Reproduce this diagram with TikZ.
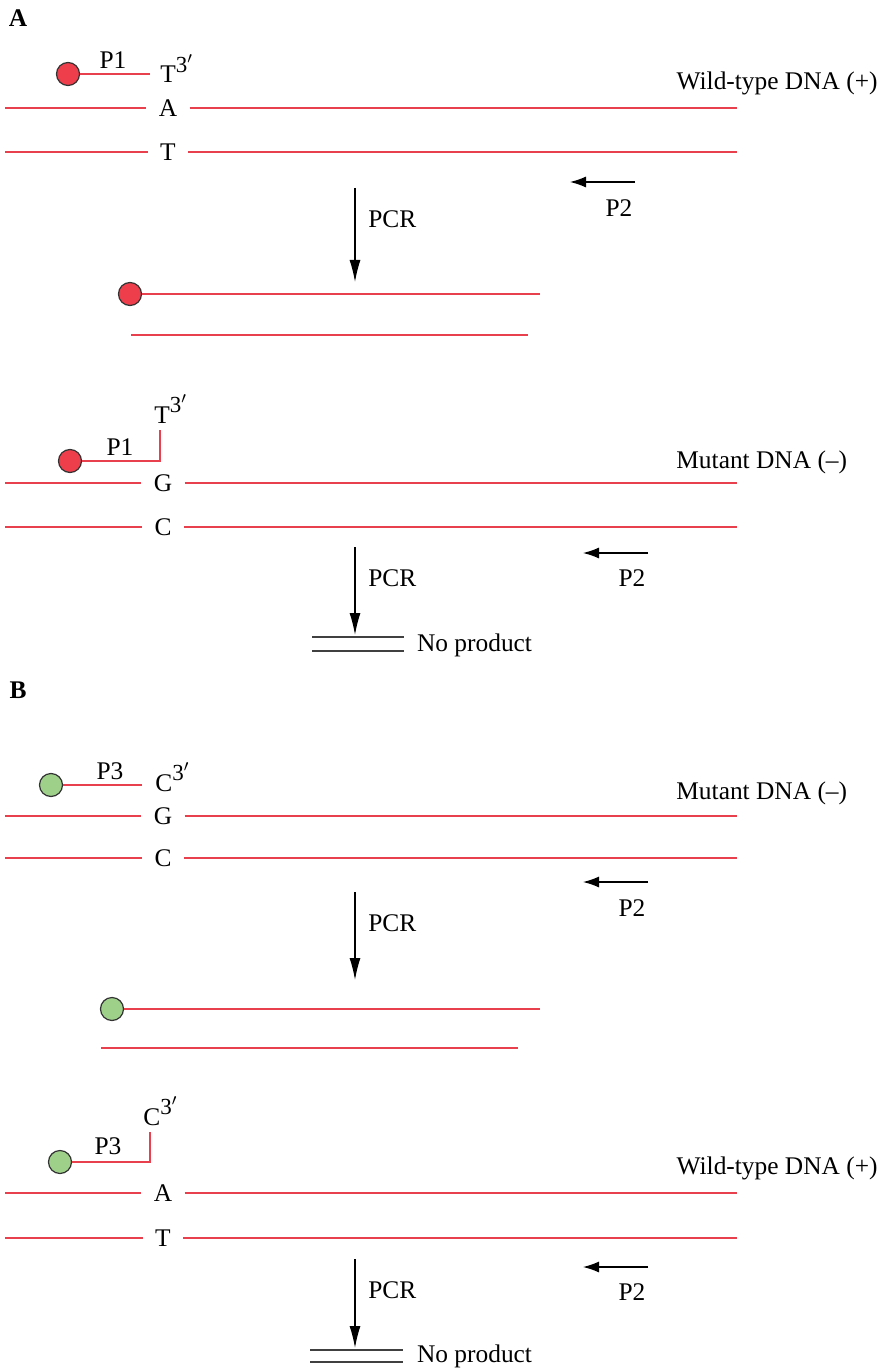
\documentclass[tikz,border=0pt]{standalone}
\usepackage{fontspec}
\setmainfont{Liberation Serif}
\usetikzlibrary{arrows.meta}
\definecolor{dnared}{HTML}{E8404C}
\definecolor{tagred}{HTML}{EE3E4C}
\definecolor{taggreen}{HTML}{9ED08A}
\newcommand{\threeprime}{\raisebox{0.42em}{\fontsize{11.5}{11}\selectfont 3$'$}}
\tikzset{
  strand/.style={dnared, line width=1pt},
  tagred/.style={circle, draw=black!80, fill=tagred, line width=0.6pt, minimum size=11.5pt, inner sep=0pt},
  taggreen/.style={circle, draw=black!80, fill=taggreen, line width=0.6pt, minimum size=11.5pt, inner sep=0pt},
  base/.style={inner xsep=6pt, inner ysep=1pt},
  primerend/.style={inner sep=0pt, anchor=base west},
  pcr/.style={-{Latex[length=11pt, width=5.5pt]}, line width=0.6pt},
  primer/.style={-{Latex[length=8pt, width=5.5pt]}, line width=0.6pt},
  noprod/.style={black!75, line width=0.6pt}
}
\begin{document}
\begin{tikzpicture}[x=0.5pt, y=-0.5pt, font=\fontsize{12.7}{14}\selectfont]
\useasboundingbox (0,0) rectangle (880,1369);
% ---------------- panel A ----------------
\node[font=\fontsize{12.7}{14}\selectfont\bfseries] (labA) at (18,18) {A};
% wild-type template, primer P1 matched
\node[tagred] (tagA1) at (68,74) {};
\node[primerend] (endA1) at (160,83) {T\threeprime};
\draw[strand] (tagA1.east) -- (150,74);
\node (pA1) at (113,60) {P1};
\node[base] (bA) at (168,108) {A};
\node[base] (bAT) at (168,152) {T};
\draw[strand] (5,108) -- (bA.west) (bA.east) -- (737,108);
\draw[strand] (5,152) -- (bAT.west) (bAT.east) -- (737,152);
\node[anchor=east, inner xsep=0pt] (wtA) at (878,83) {Wild-type DNA (+)};
\coordinate (pcrA1s) at (355,188);
\coordinate (pcrA1e) at (355,282);
\draw[pcr] (pcrA1s) -- (pcrA1e) node[pos=0.33, right=3pt] {PCR};
\coordinate (p2A1s) at (635,182);
\coordinate (p2A1e) at (570,182);
\draw[primer] (p2A1s) -- (p2A1e);
\node (p2A1) at (619,208) {P2};
% product
\node[tagred] (tagA1p) at (130,294) {};
\draw[strand] (tagA1p.east) -- (540,294);
\draw[strand] (131,335) -- (528,335);
% mutant template, primer P1 mismatched
\node[primerend] (endA2) at (154,423) {T\threeprime};
\node[tagred] (tagA2) at (70,461) {};
\draw[strand] (tagA2.east) -- (160,461) -- (160,430);
\node (pA2) at (120,447) {P1};
\node[base] (bG) at (163,483) {G};
\node[base] (bGC) at (163,527) {C};
\draw[strand] (5,483) -- (bG.west) (bG.east) -- (737,483);
\draw[strand] (5,527) -- (bGC.west) (bGC.east) -- (737,527);
\node[anchor=west, inner xsep=0pt] (mutA) at (676,462) {Mutant DNA (--)};
\coordinate (pcrA2s) at (355,547);
\coordinate (pcrA2e) at (355,635);
\draw[pcr] (pcrA2s) -- (pcrA2e) node[pos=0.35, right=3pt] {PCR};
\coordinate (p2A2s) at (648,553);
\coordinate (p2A2e) at (583,553);
\draw[primer] (p2A2s) -- (p2A2e);
\node (p2A2) at (632,578) {P2};
\node[anchor=west] (noA) at (410,645) {No product};
\draw[noprod] (312,637) -- (404,637) (312,651) -- (404,651);
% ---------------- panel B ----------------
\node[font=\fontsize{12.7}{14}\selectfont\bfseries] (labB) at (18,690) {B};
% mutant template, primer P3 matched
\node[taggreen] (tagB1) at (51,785) {};
\node[primerend] (endB1) at (155,791) {C\threeprime};
\draw[strand] (tagB1.east) -- (142,785);
\node (pB1) at (110,771) {P3};
\node[base] (bBG) at (163,816) {G};
\node[base] (bBC) at (163,858) {C};
\draw[strand] (5,816) -- (bBG.west) (bBG.east) -- (737,816);
\draw[strand] (5,858) -- (bBC.west) (bBC.east) -- (737,858);
\node[anchor=west, inner xsep=0pt] (mutB) at (676,793) {Mutant DNA (--)};
\coordinate (pcrB1s) at (355,892);
\coordinate (pcrB1e) at (355,980);
\draw[pcr] (pcrB1s) -- (pcrB1e) node[pos=0.35, right=3pt] {PCR};
\coordinate (p2B1s) at (648,882);
\coordinate (p2B1e) at (583,882);
\draw[primer] (p2B1s) -- (p2B1e);
\node (p2B1) at (632,908) {P2};
% product
\node[taggreen] (tagB1p) at (112,1009) {};
\draw[strand] (tagB1p.east) -- (540,1009);
\draw[strand] (101,1048) -- (518,1048);
% wild-type template, primer P3 mismatched
\node[primerend] (endB2) at (143,1125) {C\threeprime};
\node[taggreen] (tagB2) at (60,1162) {};
\draw[strand] (tagB2.east) -- (150,1162) -- (150,1132);
\node (pB2) at (108,1146) {P3};
\node[base] (bBA) at (163,1193) {A};
\node[base] (bBT) at (163,1238) {T};
\draw[strand] (5,1193) -- (bBA.west) (bBA.east) -- (737,1193);
\draw[strand] (5,1238) -- (bBT.west) (bBT.east) -- (737,1238);
\node[anchor=east, inner xsep=0pt] (wtB) at (878,1168) {Wild-type DNA (+)};
\coordinate (pcrB2s) at (355,1259);
\coordinate (pcrB2e) at (355,1348);
\draw[pcr] (pcrB2s) -- (pcrB2e) node[pos=0.35, right=3pt] {PCR};
\coordinate (p2B2s) at (648,1267);
\coordinate (p2B2e) at (583,1267);
\draw[primer] (p2B2s) -- (p2B2e);
\node (p2B2) at (632,1292) {P2};
\node[anchor=west] (noB) at (410,1356) {No product};
\draw[noprod] (310,1350) -- (403,1350) (310,1362) -- (403,1362);
\end{tikzpicture}
\end{document}
